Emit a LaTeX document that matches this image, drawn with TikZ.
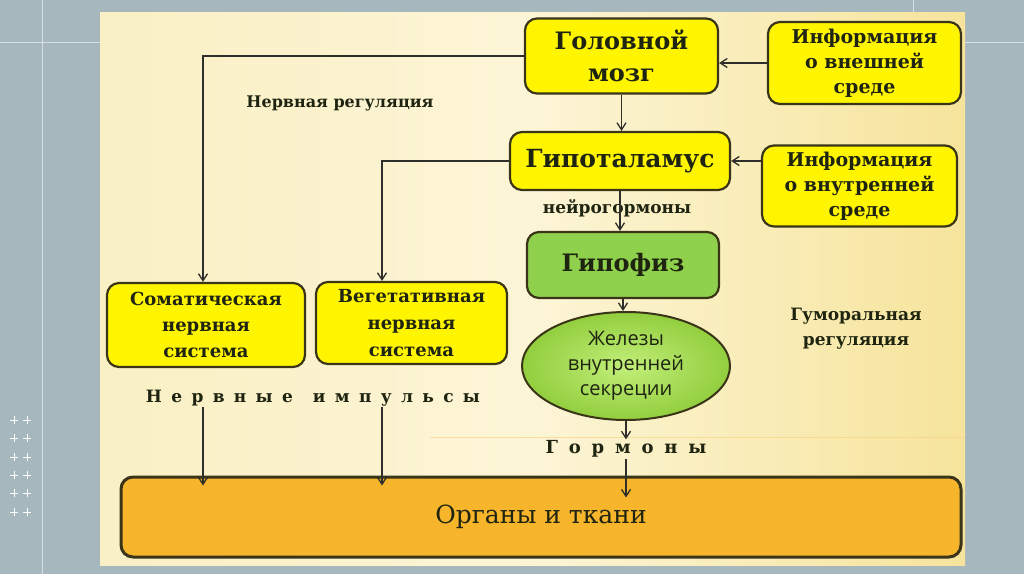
\documentclass[tikz,border=0pt]{standalone}
\usepackage{fontspec}
\setmainfont{DejaVu Serif}
\newfontfamily\ovalfont{Open Sans}
\usetikzlibrary{arrows.meta,calc,shapes.geometric}
\definecolor{slide}{HTML}{A6B7BE}
\definecolor{slideline}{HTML}{D6E0E4}
\definecolor{paper}{HTML}{FCF5D6}
\definecolor{paperedge}{HTML}{F6E49C}
\definecolor{boxyellow}{HTML}{FFF500}
\definecolor{boxedge}{HTML}{3A3418}
\definecolor{ink}{HTML}{1F2410}
\definecolor{gipgreen}{HTML}{8FD04C}
\definecolor{ovalin}{HTML}{C2EE7A}
\definecolor{ovalout}{HTML}{92CE3E}
\definecolor{organ}{HTML}{F6B52A}
\definecolor{wirecol}{HTML}{2E2E2A}
\begin{document}
\begin{tikzpicture}[x=1pt,y=-1pt,>={Straight Barb[length=7pt,width=9pt]},
box/.style={draw=boxedge,line width=2.2pt,rounded corners=12pt,fill=boxyellow,text=ink,align=center,inner sep=0pt},
lbl/.style={text=ink,align=center,inner sep=1pt},
wire/.style={->,draw=wirecol,line width=1.3pt}]
\useasboundingbox(0,0)rectangle(1024,574);
\fill[slide](0,0)rectangle(1024,574);
\draw[slideline,line width=1pt](42,0)--(42,574)(0,42)--(1024,42)(913,0)--(913,12);
\foreach\y in{420,438,457,475,493,512}{\foreach\x in{14,27}{\draw[white,line width=1pt](\x-4,\y)--(\x+4,\y)(\x,\y-4)--(\x,\y+4);}}
\shade[left color=paper!70!paperedge,right color=paperedge,middle color=paper](100,12)rectangle(965,565);
\draw[paperedge!80!orange,line width=1pt,opacity=.6](430,437)--(965,437);
\node[box,minimum width=193,minimum height=75,font=\bfseries\fontsize{24}{32}\selectfont](mozg)at(621.5,56){Головной\\мозг};
\node[box,minimum width=193,minimum height=82,font=\bfseries\fontsize{19}{25}\selectfont](vnesh)at(864.5,63){Информация\\о внешней\\среде};
\node[box,minimum width=220,minimum height=58,font=\bfseries\fontsize{25}{30}\selectfont](gipot)at(620,161){Гипоталамус};
\node[box,minimum width=195,minimum height=81,font=\bfseries\fontsize{19}{25}\selectfont](vnutr)at(859.5,186){Информация\\о внутренней\\среде};
\node[box,fill=gipgreen,minimum width=192,minimum height=66,font=\bfseries\fontsize{24}{30}\selectfont](gipof)at(623,265){Гипофиз};
\node[ellipse,draw=boxedge,line width=2pt,inner color=ovalin,outer color=ovalout,minimum width=208,minimum height=108,inner sep=0pt,align=center,text=ink,font=\ovalfont\fontsize{20}{25}\selectfont](zhel)at(626,366){Железы\\внутренней\\секреции};
\node[box,minimum width=198,minimum height=84,font=\bfseries\fontsize{18}{26}\selectfont](soma)at(206,325){Соматическая\\нервная\\система};
\node[box,minimum width=191,minimum height=82,font=\bfseries\fontsize{18}{27}\selectfont](veget)at(411.5,323){Вегетативная\\нервная\\система};
\node[box,fill=organ,line width=3pt,minimum width=840,minimum height=80,font=\fontsize{25}{30}\selectfont](organy)at(541,517){Органы и ткани};
\node[lbl,font=\bfseries\fontsize{16}{20}\selectfont](nreg)at(340,103){Нервная регуляция};
\node[lbl,font=\bfseries\fontsize{17}{20}\selectfont](neuro)at(617,208){нейрогормоны};
\node[lbl,font=\bfseries\fontsize{17}{25}\selectfont](greg)at(856,329){Гуморальная\\регуляция};
\node[lbl,font=\bfseries\fontsize{17}{20}\selectfont\addfontfeature{LetterSpace=55}](imp)at(313,398){Нервные\hspace{20pt}импульсы};
\node[lbl,font=\bfseries\fontsize{18}{20}\selectfont\addfontfeature{LetterSpace=60}](horm)at(626,449){Гормоны};
\coordinate(sx)at(203,0);\coordinate(vx)at(382,0);
\draw[wire](mozg.west)-|(sx|-soma.north);\draw[wire](gipot.west)-|(vx|-veget.north);
\draw[wire](vnesh.west)--(vnesh.west-|mozg.east);\draw[wire](vnutr.west|-gipot.east)--(gipot.east);
\draw[wire](mozg.south)--(mozg.south|-gipot.north);\draw[wire](gipot.south)--(gipot.south|-gipof.north);
\draw[wire](gipof.south)--(gipof.south|-zhel.north);\draw[wire](zhel.south)--(zhel.south|-horm.north);
\draw[wire](horm.south)--($(horm.south|-organy.north)+(0,22)$);
\draw[wire](imp.south-|sx)--($(sx|-organy.north)+(0,10)$);\draw[wire](imp.south-|vx)--($(vx|-organy.north)+(0,10)$);
\end{tikzpicture}
\end{document}
